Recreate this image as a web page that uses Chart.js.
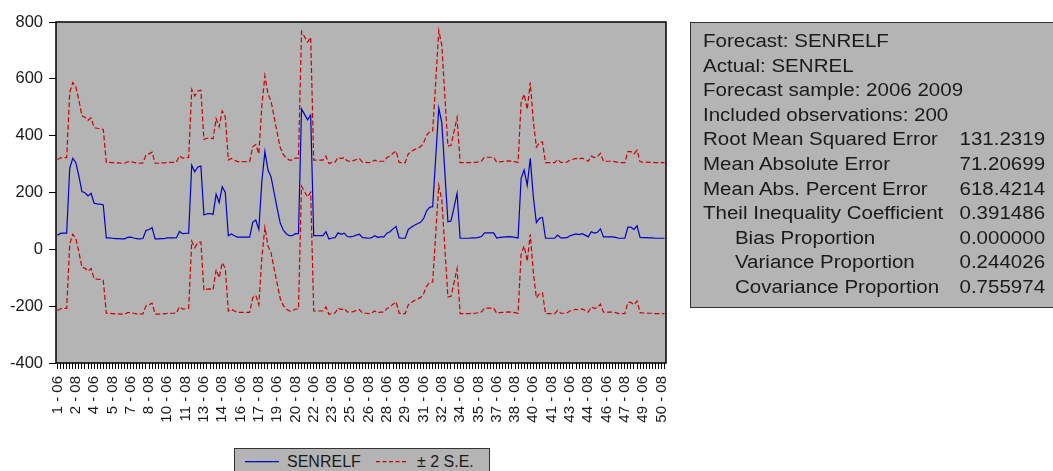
<!DOCTYPE html>
<html>
<head>
<meta charset="utf-8">
<script src="https://cdn.jsdelivr.net/npm/chart.js@4.4.0/dist/chart.umd.min.js"></script>
<style>
  html, body { margin: 0; padding: 0; background: #fff; }
  body { width: 1053px; height: 471px; overflow: hidden; position: relative;
         font-family: 'Liberation Sans', Arial, sans-serif; color: #1a1a1a; }
  #plot { position: absolute; left: 0; top: 0; width: 680px; height: 445px; }
  #stats { position: absolute; left: 690px; top: 22px; width: 400px; height: 284px;
           background: #b4b4b4; border: 1px solid #333; }
  #statsText { position: absolute; left: 12px; top: 6px; transform: scaleX(1.14);
               transform-origin: 0 0; font-size: 18px; line-height: 24.6px; white-space: nowrap; }
  #statsText div { position: relative; height: 24.6px; }
  #statsText .v { position: absolute; left: 225px; }
  #legend { position: absolute; left: 234px; top: 448px; width: 254px; height: 30px;
            background: #b4b4b4; border: 1px solid #333; }
</style>
</head>
<body>
<div id="plot"><canvas id="chart"></canvas></div>
<div id="stats"><div id="statsText"></div></div>
<div id="legend">
  <svg width="254" height="24" xmlns="http://www.w3.org/2000/svg">
    <line x1="10" y1="12.7" x2="44" y2="12.7" stroke="#0000c8" stroke-width="1.2"/>
    <text x="52" y="18.4" font-family="Liberation Sans, Arial, sans-serif" font-size="16" fill="#1a1a1a">SENRELF</text>
    <line x1="141" y1="12.7" x2="173" y2="12.7" stroke="#cc0000" stroke-width="1.2" stroke-dasharray="4 2.5"/>
    <text x="182" y="18.4" font-family="Liberation Sans, Arial, sans-serif" font-size="16" fill="#1a1a1a">&#177; 2 S.E.</text>
  </svg>
</div>
<script>
// ---------- Data ----------
const sections = 50;                 // cross-section ids 1..50
const years = ['06', '07', '08', '09'];
const labelEvery = 6;

// SENRELF forecast
const forecast = [
  50, 56, 57, 57, 285, 320, 305, 258, 203, 199, 188, 197, 162, 160, 159, 156,
  40, 40, 39, 38, 38, 37, 37, 42, 43, 40, 38, 37, 38, 66, 70, 76,
  37, 37, 38, 38, 40, 40, 40, 41, 63, 55, 56, 57, 296, 273, 290, 293,
  121, 125, 126, 123, 194, 165, 220, 200, 48, 54, 48, 43, 43, 43, 43, 43,
  95, 103, 70, 240, 344, 279, 255, 200, 145, 93, 68, 55, 48, 48, 55, 55,
  494, 475, 456, 473, 48, 48, 48, 48, 62, 36, 40, 41, 58, 53, 57, 45,
  44, 46, 50, 53, 41, 40, 39, 41, 48, 42, 44, 44, 57, 62, 72, 80,
  40, 39, 39, 70, 78, 85, 90, 95, 108, 135, 148, 150, 322, 497, 445, 270,
  97, 100, 148, 197, 39, 39, 39, 39, 40, 40, 42, 45, 58, 58, 58, 58,
  40, 42, 43, 44, 45, 44, 42, 40, 250, 279, 225, 320, 185, 94, 109, 112,
  39, 39, 39, 39, 50, 40, 40, 41, 48, 51, 54, 52, 55, 50, 44, 62,
  57, 60, 72, 44, 44, 44, 44, 42, 39, 39, 39, 78, 78, 70, 83, 42,
  41, 41, 40, 40, 39, 39, 39, 39
];

// upper band (+2 S.E.)
const upper = [
  316, 322, 323, 323, 552, 587, 572, 525, 470, 465, 454, 463, 428, 426, 425, 422,
  306, 306, 305, 304, 304, 303, 303, 308, 309, 306, 304, 303, 304, 332, 336, 342,
  303, 303, 304, 304, 306, 306, 306, 307, 329, 321, 322, 323, 563, 540, 557, 560,
  387, 391, 392, 389, 460, 431, 487, 467, 314, 320, 314, 309, 309, 309, 309, 309,
  361, 369, 336, 507, 611, 546, 522, 467, 411, 359, 334, 321, 314, 314, 321, 321,
  767, 748, 729, 746, 314, 314, 314, 314, 328, 302, 306, 307, 324, 319, 323, 311,
  310, 312, 316, 319, 307, 306, 305, 307, 314, 308, 310, 310, 323, 328, 338, 346,
  306, 305, 305, 336, 344, 351, 356, 361, 374, 401, 414, 416, 589, 770, 718, 537,
  363, 366, 414, 463, 305, 305, 305, 305, 306, 306, 308, 311, 324, 324, 324, 324,
  306, 308, 309, 310, 311, 310, 308, 306, 517, 546, 492, 587, 451, 360, 375, 378,
  305, 305, 305, 305, 316, 306, 306, 307, 314, 317, 320, 318, 321, 316, 310, 328,
  323, 326, 338, 310, 310, 310, 310, 308, 305, 305, 305, 344, 344, 336, 349, 308,
  307, 307, 306, 306, 305, 305, 305, 305
];

// lower band (-2 S.E.)
const lower = [
  -215, -209, -208, -208, 18, 53, 38, -9, -64, -66, -77, -68, -103, -105, -106, -109,
  -225, -225, -226, -227, -227, -228, -228, -223, -222, -225, -227, -228, -227, -199, -195, -189,
  -228, -228, -227, -227, -225, -225, -225, -224, -202, -210, -209, -208, 29, 6, 23, 26,
  -144, -140, -139, -142, -71, -100, -47, -67, -217, -211, -217, -222, -222, -222, -222, -222,
  -170, -162, -195, -27, 77, 12, -12, -67, -120, -172, -197, -210, -217, -217, -210, -210,
  222, 203, 184, 201, -217, -217, -217, -217, -203, -229, -225, -224, -207, -212, -208, -220,
  -221, -219, -215, -212, -224, -225, -226, -224, -217, -223, -221, -221, -208, -203, -193, -185,
  -225, -226, -226, -195, -187, -180, -175, -170, -157, -130, -117, -115, 55, 225, 173, 3,
  -168, -165, -117, -68, -226, -226, -226, -226, -225, -225, -223, -220, -207, -207, -207, -207,
  -225, -223, -222, -221, -220, -221, -223, -225, -17, 12, -42, 53, -80, -171, -156, -153,
  -226, -226, -226, -226, -215, -225, -225, -224, -217, -214, -211, -213, -210, -215, -221, -203,
  -208, -205, -193, -221, -221, -221, -221, -223, -226, -226, -226, -187, -187, -195, -182, -223,
  -224, -224, -225, -225, -226, -226, -226, -226
];

const yTicks = { min: -400, max: 800, step: 200 };

const stats = [
  ['Forecast: SENRELF', '', 0],
  ['Actual: SENREL', '', 0],
  ['Forecast sample: 2006 2009', '', 0],
  ['Included observations: 200', '', 0],
  ['Root Mean Squared Error', '131.2319', 0],
  ['Mean Absolute Error', '71.20699', 0],
  ['Mean Abs. Percent Error', '618.4214', 0],
  ['Theil Inequality Coefficient', '0.391486', 0],
  ['Bias Proportion', '0.000000', 1],
  ['Variance Proportion', '0.244026', 1],
  ['Covariance Proportion', '0.755974', 1]
];

// ---------- Build ----------
const obsLabels = [];
for (let s = 1; s <= sections; s++) {
  years.forEach((y) => obsLabels.push(`${s} - ${y}`));
}

const statsEl = document.getElementById('statsText');
stats.forEach(([label, value, indent]) => {
  const row = document.createElement('div');
  const l = document.createElement('span');
  l.textContent = label;
  if (indent) l.style.paddingLeft = '28px';
  row.appendChild(l);
  if (value) {
    const v = document.createElement('span');
    v.className = 'v';
    v.textContent = value;
    row.appendChild(v);
  }
  statsEl.appendChild(row);
});

const FONT = "'Liberation Sans', Arial, sans-serif";
const INK = '#1a1a1a';

const framePlugin = {
  id: 'frame',
  beforeDatasetsDraw(chart) {
    const { ctx, chartArea: a } = chart;
    ctx.save();
    ctx.fillStyle = '#b4b4b4';
    ctx.fillRect(a.left, a.top, a.right - a.left, a.bottom - a.top);
    ctx.restore();
  },
  afterDraw(chart) {
    const { ctx, chartArea: a } = chart;
    ctx.save();
    ctx.strokeStyle = '#000';
    ctx.lineWidth = 1.5;
    ctx.strokeRect(a.left, a.top, a.right - a.left, a.bottom - a.top);
    ctx.restore();
  }
};

new Chart(document.getElementById('chart'), {
  type: 'line',
  data: {
    labels: obsLabels,
    datasets: [
      { label: 'SENRELF', data: forecast, borderColor: '#0000c8', borderWidth: 1.2,
        pointRadius: 0, tension: 0, fill: false },
      { label: '\u00b1 2 S.E.', data: upper, borderColor: '#cc0000', borderWidth: 1.2,
        borderDash: [5, 2.5], pointRadius: 0, tension: 0, fill: false },
      { label: '\u00b1 2 S.E. (lower)', data: lower, borderColor: '#cc0000', borderWidth: 1.2,
        borderDash: [5, 2.5], pointRadius: 0, tension: 0, fill: false }
    ]
  },
  options: {
    responsive: true,
    maintainAspectRatio: false,
    animation: false,
    layout: { padding: { top: 22, right: 14, left: 0, bottom: 0 } },
    plugins: { legend: { display: false }, tooltip: { enabled: false } },
    scales: {
      x: {
        offset: true,
        grid: { drawOnChartArea: false, drawTicks: true, tickLength: 6, color: '#000', offset: false },
        border: { display: false },
        ticks: {
          autoSkip: false, maxRotation: 90, minRotation: 90, padding: 7,
          color: INK, font: { family: FONT, size: 15 },
          callback: (v, i) => (i % labelEvery === 0 ? obsLabels[i] : '')
        },
        afterFit: (s) => { s.height = 82; s.paddingLeft = 0; s.paddingRight = 0; }
      },
      y: {
        min: yTicks.min, max: yTicks.max,
        grid: { drawOnChartArea: false, drawTicks: true, tickLength: 7, color: '#000' },
        border: { display: false },
        ticks: { stepSize: yTicks.step, padding: 6, color: INK, font: { family: FONT, size: 16.5 } },
        afterFit: (s) => { s.width = 56; }
      }
    }
  },
  plugins: [framePlugin]
});
</script>
</body>
</html>
